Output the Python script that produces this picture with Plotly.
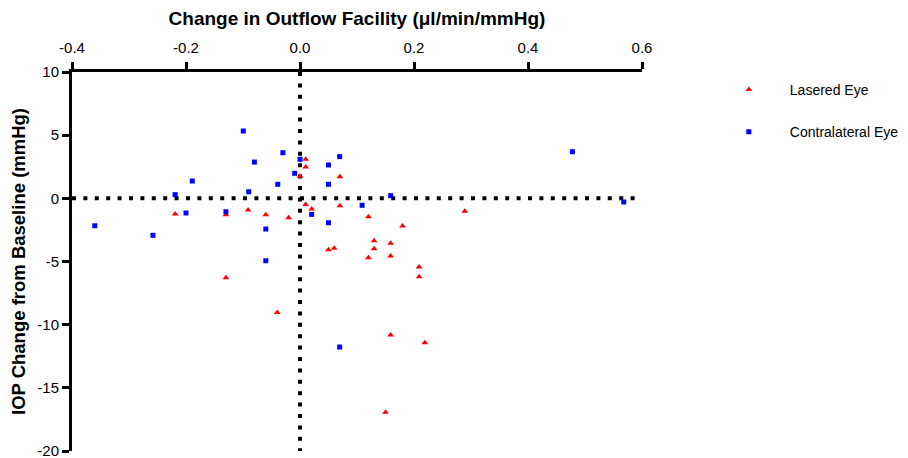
import plotly.graph_objects as go

# Lasered eye (red triangles)
lasered_x = [0.010, 0.010, 0.0, 0.010, -0.219, -0.130, -0.091, -0.060, -0.020, -0.130,
             0.070, 0.0205, 0.070, 0.120, 0.180, 0.130, 0.130, 0.050, 0.060, 0.120,
             0.159, 0.159, 0.209, 0.209, 0.289, -0.040, 0.159, 0.219, 0.150]
lasered_y = [3.09, 2.48, 1.74, -0.48, -1.24, -1.30, -0.93, -1.30, -1.53, -6.28,
             1.71, -0.85, -0.58, -1.45, -2.19, -3.35, -3.99, -4.07, -3.96, -4.70,
             -3.56, -4.57, -5.44, -6.20, -1.03, -9.03, -10.82, -11.43, -16.94]

# Contralateral eye (blue squares)
contra_x = [-0.0995, -0.030, -0.080, 0.0, -0.0093, -0.189, -0.039, -0.090, -0.219, -0.200,
            -0.130, -0.360, -0.258, -0.060, -0.060, 0.0696, 0.050, 0.050, 0.0205, 0.050,
            0.109, 0.159, 0.0696, 0.478, 0.568]
contra_y = [5.33, 3.61, 2.87, 3.09, 1.98, 1.37, 1.11, 0.52, 0.29, -1.16,
            -1.06, -2.17, -2.93, -2.43, -4.94, 3.30, 2.64, 1.11, -1.27, -1.93,
            -0.55, 0.21, -11.77, 3.69, -0.29]

x_tickvals = [-0.4, -0.2, 0.0, 0.2, 0.4, 0.6]
x_ticktext = ["-0.4", "-0.2", "0.0", "0.2", "0.4", "0.6"]
y_tickvals = [10, 5, 0, -5, -10, -15, -20]
y_ticktext = ["10", "5", "0", "-5", "-10", "-15", "-20"]

FONT = "Liberation Sans, Arial, sans-serif"

fig = go.Figure()
fig.add_trace(go.Scatter(
    x=lasered_x, y=lasered_y, mode="markers", name="Lasered Eye",
    legendgroup="a",
    marker=dict(symbol="triangle-up", size=6, color="#ff0000"),
))
fig.add_trace(go.Scatter(
    x=contra_x, y=contra_y, mode="markers", name="Contralateral Eye",
    legendgroup="b",
    marker=dict(symbol="square", size=5, color="#0000ff"),
))

# dotted zero lines
fig.add_shape(type="line", xref="x", yref="y", x0=-0.4, x1=0.6, y0=0, y1=0,
              line=dict(color="black", width=4, dash="4px,7.4px"), layer="below")
fig.add_shape(type="line", xref="x", yref="y", x0=0, x1=0, y0=10, y1=-20,
              line=dict(color="black", width=4, dash="4px,7.4px"), layer="below")

fig.update_layout(
    width=900, height=450,
    margin=dict(l=64, r=266, t=64, b=7, autoexpand=False),
    paper_bgcolor="white", plot_bgcolor="white",
    font=dict(family=FONT, size=14, color="black"),
    showlegend=True,
    legend=dict(x=1.1155, y=0.995, xanchor="left", yanchor="top",
                font=dict(size=14), tracegroupgap=21, itemwidth=72),
)
fig.update_xaxes(
    range=[-0.4, 0.6], side="top", showgrid=False, zeroline=False,
    showline=True, linewidth=3, linecolor="black",
    ticks="outside", ticklen=7, tickwidth=3, tickcolor="black",
    tickvals=x_tickvals, ticktext=x_ticktext, ticklabelstandoff=3,
    ticklabeloverflow="allow",
    tickfont=dict(size=15), automargin=False,
    title=dict(text="<b>Change in Outflow Facility (μl/min/mmHg)</b>",
               font=dict(size=19), standoff=11),
)
fig.update_yaxes(
    range=[-20, 10], showgrid=False, zeroline=False,
    showline=True, linewidth=3, linecolor="black",
    ticks="outside", ticklen=7, tickwidth=3, tickcolor="black",
    tickvals=y_tickvals, ticktext=y_ticktext,
    ticklabeloverflow="allow",
    tickfont=dict(size=15), automargin=False,
    title=dict(text="<b>IOP Change from Baseline (mmHg)</b>",
               font=dict(size=18.5), standoff=9),
)

fig.write_html("out.html")
